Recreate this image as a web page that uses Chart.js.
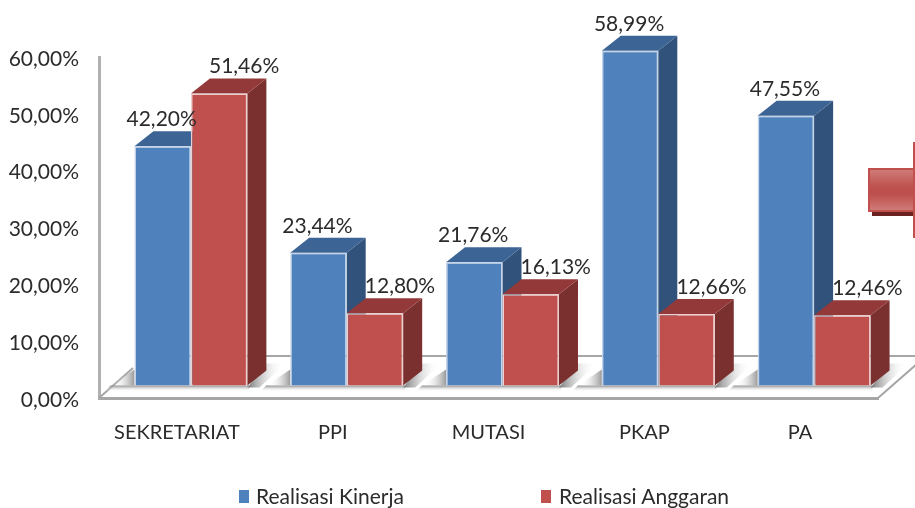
<!DOCTYPE html>
<html>
<head>
<meta charset="utf-8">
<title>Realisasi Kinerja dan Anggaran</title>
<style>
  html, body { margin: 0; padding: 0; background: #fff; overflow: hidden; }
  #wrap { position: relative; width: 915px; height: 508px; overflow: hidden; }
  canvas { position: absolute; left: 0; top: 0; }
  .legend-box { position: absolute; top: 490px; width: 10px; height: 13px; }
  .legend-text { position: absolute; top: 483px; font: 21px Lato, sans-serif; color: #2b2b2b; white-space: nowrap; }
  #arrow-body { position: absolute; left: 868px; top: 168px; width: 47px; height: 44px; box-sizing: border-box;
    border: 2px solid #c0504d; border-right: 0; background: linear-gradient(#cf7a78, #bd4f4c 45%, #bd4f4c 60%, #cf7a78); }
  #arrow-shadow { position: absolute; left: 872px; top: 212px; width: 41px; height: 4px; background: #6b2321; }
  #arrow-head { position: absolute; left: 913px; top: 142px; width: 2px; height: 96px; background: #c0504d; }
</style>
</head>
<body>
<div id="wrap">
  <canvas id="chart" width="915" height="508"></canvas>
  <div id="arrow-body"></div>
  <div id="arrow-shadow"></div>
  <div id="arrow-head"></div>
  <div class="legend-box" style="left:239px;background:#4f81bd"></div>
  <div class="legend-text" id="legend0" style="left:256px"></div>
  <div class="legend-box" style="left:541px;background:#c0504d"></div>
  <div class="legend-text" id="legend1" style="left:559px"></div>
</div>
<script src="https://cdn.jsdelivr.net/npm/chart.js@4/dist/chart.umd.js"></script>
<script>
const categories = ['SEKRETARIAT', 'PPI', 'MUTASI', 'PKAP', 'PA'];
const seriesNames = ['Realisasi Kinerja', 'Realisasi Anggaran'];
const kinerja = [42.20, 23.44, 21.76, 58.99, 47.55];
const anggaran = [51.46, 12.80, 16.13, 12.66, 12.46];

// offset of the front plane from the axes, and depth of the 3d look
const planeX = 14;
const planeY = -12;
const depthX = 19;
const depthY = 15;

const faces = [
    { side: '#31527a', top: '#3c6494', labelShift: -1 },
    { side: '#7a302e', top: '#93393a', labelShift: 25 },
];

const fontName = 'Lato, sans-serif';

function percent(value) {
    return value.toFixed(2).replace('.', ',') + '%';
}

function polygon(ctx, points, fill) {
    ctx.beginPath();
    points.forEach(([x, y], i) => (i ? ctx.lineTo(x, y) : ctx.moveTo(x, y)));
    ctx.closePath();
    ctx.fillStyle = fill;
    ctx.fill();
}

function drawFloor(chart) {
    const { ctx, chartArea } = chart;
    const left = chartArea.left;
    const right = chartArea.right;
    const bottom = chartArea.bottom;
    const back = bottom - 42;

    ctx.save();
    ctx.lineWidth = 2;
    ctx.strokeStyle = '#a6a6a6';
    ctx.beginPath();
    ctx.moveTo(left, bottom);
    ctx.lineTo(left + 34, bottom - 30);
    ctx.moveTo(left + 47, back);
    ctx.lineTo(right + 40, back);
    ctx.moveTo(right, bottom);
    ctx.lineTo(right + 40, bottom - 35);
    ctx.stroke();

    // soft shadow below every group of bars
    const metaA = chart.getDatasetMeta(0);
    const metaB = chart.getDatasetMeta(1);
    categories.forEach((name, i) => {
        const barA = metaA.data[i];
        const barB = metaB.data[i];
        const l = barA.x - barA.width / 2 + planeX;
        const r = barB.x + barB.width / 2 + planeX;
        const b = barA.base + planeY;

        const under = ctx.createLinearGradient(0, b, 0, b + 6);
        under.addColorStop(0, '#8e8e8e');
        under.addColorStop(1, 'rgba(255,255,255,0)');
        polygon(ctx, [[l - 24, b], [r + 2, b], [r + 2, b + 6], [l - 30, b + 6]], under);

        const leftFade = ctx.createLinearGradient(l - 22, 0, l, 0);
        leftFade.addColorStop(0, 'rgba(255,255,255,0)');
        leftFade.addColorStop(1, '#9a9a9a');
        polygon(ctx, [[l - 24, b], [l, b], [l, b - 16]], leftFade);

        const rightFade = ctx.createLinearGradient(r, 0, r + 36, 0);
        rightFade.addColorStop(0, '#777');
        rightFade.addColorStop(1, 'rgba(255,255,255,0)');
        polygon(ctx, [[r, b + 2], [r + 12, b + 2], [r + 38, b - 22], [r + 19, b - 22]], rightFade);
    });
    ctx.restore();
}

function drawFaces(ctx, meta, face) {
    meta.data.forEach((bar) => {
        const l = bar.x - bar.width / 2;
        const r = bar.x + bar.width / 2;
        polygon(ctx, [[r, bar.y], [r + depthX, bar.y - depthY], [r + depthX, bar.base - depthY], [r, bar.base]], face.side);
        polygon(ctx, [[l, bar.y], [l + depthX, bar.y - depthY], [r + depthX, bar.y - depthY], [r, bar.y]], face.top);
    });
}

// chart.js paints the last dataset first, so: blue faces, red bars, blue fronts
const bars3d = {
    id: 'bars3d',
    beforeDatasetsDraw(chart) {
        const { ctx } = chart;
        drawFloor(chart);
        ctx.save();
        ctx.translate(planeX, planeY);
        drawFaces(ctx, chart.getDatasetMeta(0), faces[0]);
        ctx.restore();
    },
    beforeDatasetDraw(chart, args) {
        const { ctx } = chart;
        ctx.save();
        ctx.translate(planeX, planeY);
        if (args.index === 1) {
            drawFaces(ctx, args.meta, faces[1]);
        }
    },
    afterDatasetDraw(chart) {
        chart.ctx.restore();
    },
    afterDatasetsDraw(chart) {
        const { ctx } = chart;
        ctx.save();
        ctx.font = '21px ' + fontName;
        ctx.fillStyle = '#2b2b2b';
        ctx.textAlign = 'center';
        ctx.textBaseline = 'middle';
        chart.data.datasets.forEach((dataset, d) => {
            chart.getDatasetMeta(d).data.forEach((bar, i) => {
                ctx.fillText(percent(dataset.data[i]), bar.x + planeX + faces[d].labelShift, bar.y + planeY - 27);
            });
        });
        ctx.restore();
    },
};

seriesNames.forEach((name, i) => {
    document.getElementById('legend' + i).innerText = name;
});

new Chart(document.getElementById('chart'), {
    type: 'bar',
    data: {
        labels: categories,
        datasets: [
            { label: seriesNames[0], data: kinerja, backgroundColor: '#4f81bd', borderColor: '#c4d4e8', borderWidth: 1.5, clip: false },
            { label: seriesNames[1], data: anggaran, backgroundColor: '#c0504d', borderColor: '#eccfce', borderWidth: 1.5, clip: false },
        ],
    },
    plugins: [bars3d],
    options: {
        responsive: false,
        animation: false,
        layout: { padding: { top: 57, right: 37, left: 0, bottom: 0 } },
        plugins: {
            legend: { display: false },
            tooltip: { enabled: false },
        },
        datasets: { bar: { barPercentage: 1, categoryPercentage: 0.725 } },
        scales: {
            x: {
                afterFit(scale) { scale.height = 110; },
                grid: { drawOnChartArea: false, drawTicks: false },
                border: { color: '#a6a6a6', width: 3 },
                ticks: { color: '#2b2b2b', padding: 23, maxRotation: 0, font: { family: fontName, size: 20 } },
            },
            y: {
                min: 0,
                max: 60,
                afterFit(scale) { scale.width = 99; },
                grid: { drawOnChartArea: false, drawTicks: false },
                border: { color: '#b0b0b0', width: 3 },
                ticks: {
                    stepSize: 10,
                    color: '#2b2b2b',
                    padding: 20,
                    labelOffset: 2,
                    font: { family: fontName, size: 21 },
                    callback: (value) => percent(value),
                },
            },
        },
    },
});
</script>
</body>
</html>
